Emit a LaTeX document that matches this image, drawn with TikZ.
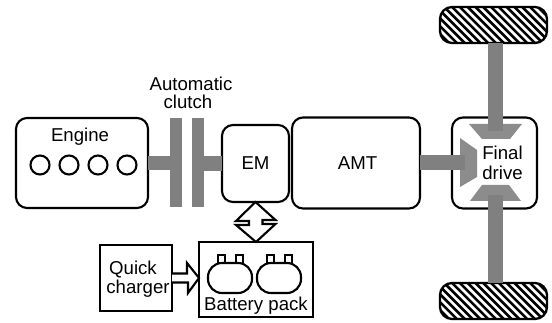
\documentclass[tikz,border=0pt]{standalone}
\usepackage{fontspec}
\setmainfont{Liberation Sans}
\usetikzlibrary{calc}

\colorlet{shaftcolor}{black!50}
\colorlet{gearcolor}{black!45}
\def\pxlen{0.02cm}

\tikzset{
  blockbox/.style={draw=black,line width=1.2pt,fill=white,rounded corners=11*\pxlen,inner sep=0pt,outer sep=0pt,font=\fontsize{10.6}{12}\selectfont},
  squarebox/.style={draw=black,line width=1.2pt,fill=white,inner sep=0pt,outer sep=0pt},
  clutchplate/.style={fill=shaftcolor,inner sep=0pt,outer sep=0pt,minimum width=12*\pxlen,minimum height=89*\pxlen},
  shaftline/.style={draw=shaftcolor,line width=14.5*\pxlen},
  labeltext/.style={inner sep=0pt,font=\fontsize{10.6}{12}\selectfont},
  cylinder/.style={draw=black,line width=1.2pt,circle,inner sep=0pt,minimum size=19*\pxlen},
  wheelbox/.style={draw=black,line width=1.3pt,rounded corners=12*\pxlen,inner sep=0pt,outer sep=0pt,
    minimum width=107*\pxlen,minimum height=36*\pxlen,
    path picture={
      \foreach \i in {-10,...,10}
        \draw[line width=2.6*\pxlen] ($(path picture bounding box.center)+({\i*7.8-40},-40)$) -- ++(80,80);
    }},
}

\begin{document}
\begin{tikzpicture}[x=0.02cm,y=-0.02cm]

\useasboundingbox[fill=white] (0,0) rectangle (552,323);

% DRAW THE BLOCKS
\node[blockbox,minimum width=132*\pxlen,minimum height=90*\pxlen] (engine) at (82,163) {};
\node[blockbox,minimum width=67*\pxlen,minimum height=77*\pxlen,text depth=0pt] (em) at (255.5,163.5) {EM};
\node[blockbox,minimum width=128*\pxlen,minimum height=91*\pxlen] (amt) at (356,163) {};
\node[blockbox,minimum width=85*\pxlen,minimum height=91*\pxlen] (finaldrive) at (494.5,163) {};
\node[squarebox,minimum width=72*\pxlen,minimum height=66*\pxlen] (charger) at (136,278) {};
\node[squarebox,minimum width=114*\pxlen,minimum height=75*\pxlen] (battery) at (256,279.5) {};

% DRAW THE TEXTS
\node[labeltext] (enginetext) at (80,137) {Engine};
\node[labeltext] (amttext) at (357.5,163) {AMT};
\node[labeltext] (quicktext) at (133,269.5) {Quick};
\node[labeltext] (chargertext) at (138,288.5) {charger};
\node[labeltext] (batterytext) at (256,305.5) {Battery pack};
\node[labeltext] (finaltext) at (502.5,153) {Final};
\node[labeltext] (drivetext) at (502.5,173) {drive};
\node[labeltext] (autotext) at (191,84) {Automatic};
\node[labeltext] (clutchtext) at (188,102) {clutch};

% DRAW THE ENGINE CYLINDERS
\foreach \cx/\cname in {40/a,69/b,98/c,127/d}
  \node[cylinder] (cyl\cname) at (\cx,165) {};

% DRAW THE CLUTCH
\node[clutchplate] (clutchA) at (176,162.5) {};
\node[clutchplate] (clutchB) at (198,162.5) {};
\draw[shaftline] (engine.east) -- (engine.east -| clutchA.west);
\draw[shaftline] (clutchB.east |- em.west) -- (em.west);

% DRAW THE BEVEL GEARS
\fill[gearcolor] (460,138) -- (477,150) -- (477,177) -- (460,187) -- cycle;
\fill[gearcolor] (469,124) -- (522,124) -- (510,139) -- (482,139) -- cycle;
\fill[gearcolor] (482,185) -- (509,185) -- (521,201) -- (470,201) -- cycle;
\coordinate (gearleft) at (465,162.5);
\coordinate (geartop) at (495.5,131);
\coordinate (gearbottom) at (495.5,195);

% DRAW THE WHEELS
\node[wheelbox] (wheeltop) at (493.5,25) {};
\node[wheelbox] (wheelbottom) at (493.5,301) {};

% DRAW THE SHAFTS
\draw[shaftline] (amt.east |- gearleft) -- (gearleft);
\draw[shaftline] (wheeltop.south -| geartop) -- (geartop);
\draw[shaftline] (wheelbottom.north -| gearbottom) -- (gearbottom);

% DRAW THE POWER ARROWS
\draw[line width=1.2pt,line join=miter,fill=white] (em.south) -- ++(20,18) -- ++(-13,0) -- ++(0,4) -- ++(13,0)
  -- (battery.north) -- ++(-20,-17) -- ++(13,0) -- ++(0,-4) -- ++(-13,0) -- cycle;
\draw[line width=1.2pt,fill=white] ($(charger.east)+(0,-4.5)$) -- ++(15,0) -- ++(0,-10.5) -- (battery.west |- charger.east)
  -- (188,293) -- ++(0,-10.5) -- ++(-16,0);

% DRAW THE BATTERIES
\foreach \bx/\bname in {230/a,279/b}{
  \draw[line width=1.2pt,fill=white] (\bx-12,263) -- ++(0,-8) -- ++(7,0) -- ++(0,8);
  \draw[line width=1.2pt,fill=white] (\bx+6,263) -- ++(0,-8) -- ++(7,0) -- ++(0,8);
  \node[draw=black,line width=1.2pt,rounded corners=14*\pxlen,minimum width=44*\pxlen,minimum height=30*\pxlen] (cell\bname) at (\bx,278) {};
}

\end{tikzpicture}
\end{document}
